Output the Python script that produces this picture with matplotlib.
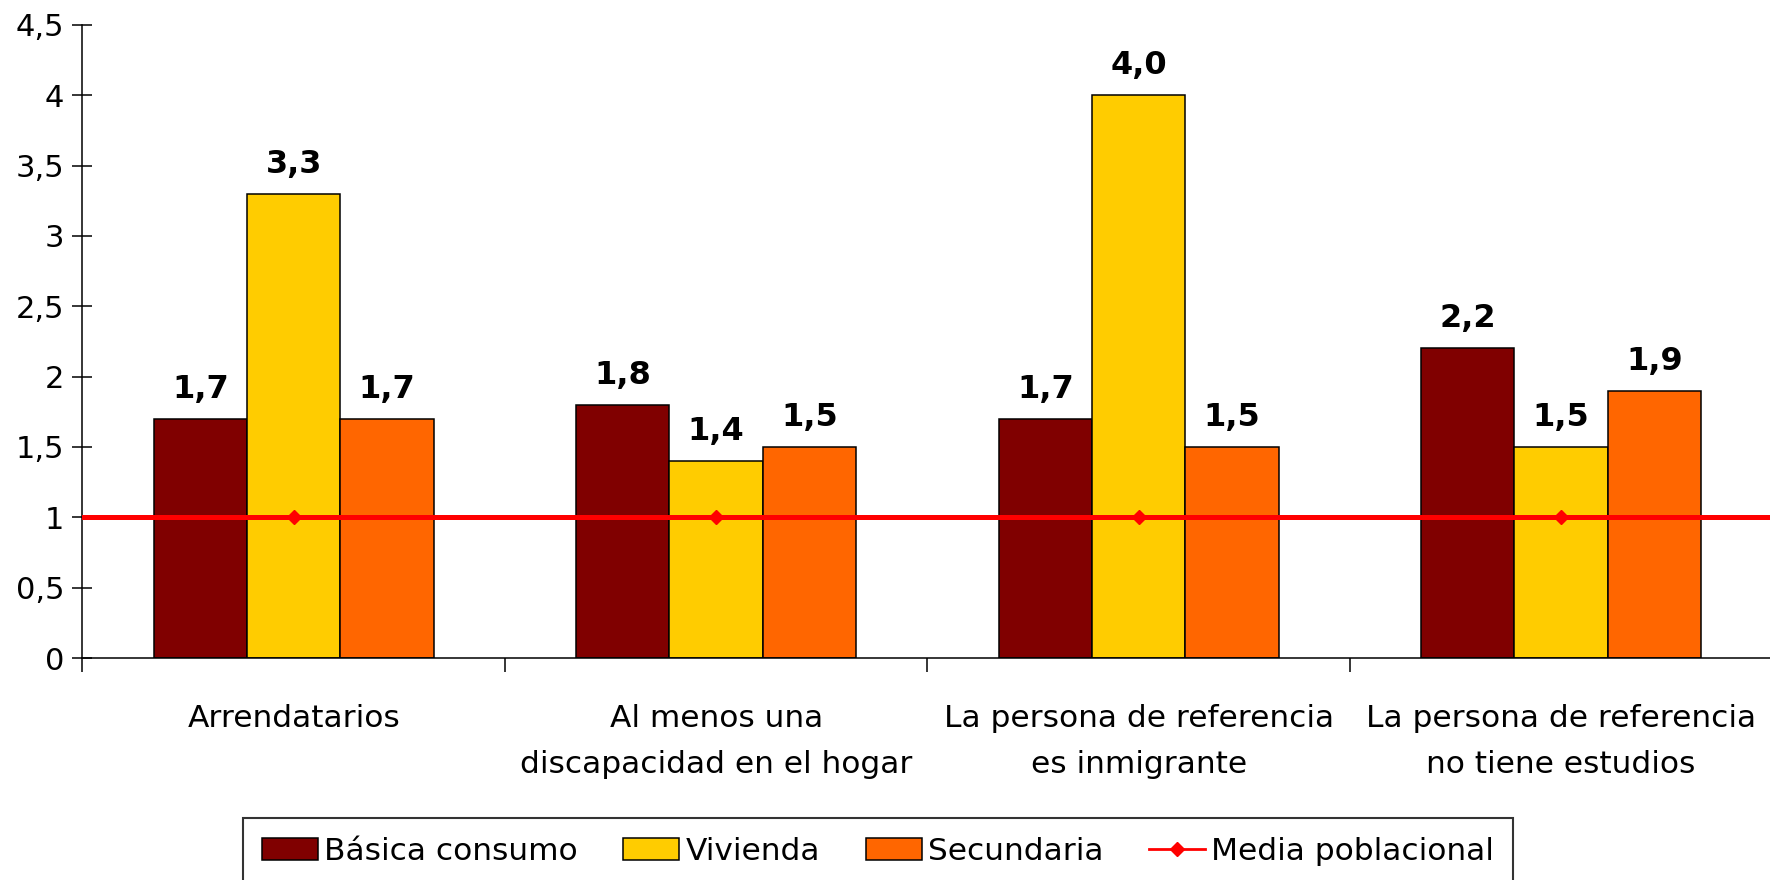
import numpy as np
import matplotlib
matplotlib.use("Agg")
import matplotlib.pyplot as plt
from matplotlib.lines import Line2D
from matplotlib.patches import Patch
from matplotlib.ticker import FuncFormatter

categorias = ["Arrendatarios", "Al menos una\ndiscapacidad en el hogar",
              "La persona de referencia\nes inmigrante", "La persona de referencia\nno tiene estudios"]
basica = [1.7, 1.8, 1.7, 2.2]
vivienda = [3.3, 1.4, 4.0, 1.5]
secundaria = [1.7, 1.5, 1.5, 1.9]
media = [1, 1, 1, 1]
series_names = ["Básica consumo", "Vivienda", "Secundaria", "Media poblacional"]
colores = ["#800000", "#FFCC00", "#FF6600"]

plt.rcParams['font.family'] = ['DejaVu Sans']

fig = plt.figure(figsize=(17.7, 8.8), dpi=100)
ax = fig.add_axes([82.4 / 1770, 1 - 658 / 880, 1690 / 1770, (658 - 24.8) / 880])

x = np.arange(len(categorias))
w = 0.221
for k, (vals, c) in enumerate(zip([basica, vivienda, secundaria], colores)):
    xs = x + (k - 1) * w
    ax.bar(xs, vals, w, color=c, edgecolor="black", linewidth=1.1, zorder=2)
    for xi, v in zip(xs, vals):
        ax.text(xi, v + 0.1, f"{v:.1f}".replace(".", ","), ha="center", va="bottom",
                fontsize=23, fontweight="bold")

ax.axhline(media[0], color="#FF0000", linewidth=3.6, zorder=3)
ax.plot(x, media, linestyle="none", marker="D", color="#FF0000", markersize=7.5, zorder=4)

ax.set_xlim(-0.5, 3.5)
ax.set_ylim(0, 4.5)
ax.set_yticks(np.arange(0, 4.51, 0.5))
ax.yaxis.set_major_formatter(FuncFormatter(lambda v, p: f"{v:g}".replace(".", ",")))
ax.tick_params(axis="y", direction="inout", length=14, width=1.1, labelsize=22, pad=6)

ax.set_xticks(np.arange(-0.5, 3.6, 1.0))
ax.set_xticklabels([])
ax.tick_params(axis="x", which="major", direction="out", length=10, width=1.1)
ax.set_xticks(x, minor=True)
ax.set_xticklabels(categorias, minor=True, fontsize=22.5, linespacing=1.75)
ax.tick_params(axis="x", which="minor", length=0, pad=33)

for s in ["top", "right"]:
    ax.spines[s].set_visible(False)
for s in ["left", "bottom"]:
    ax.spines[s].set_linewidth(1.1)

handles = [Patch(facecolor=c, edgecolor="black", linewidth=1.1) for c in colores]
handles.append(Line2D([0], [0], color="#FF0000", linewidth=2, marker="D", markersize=7))
leg = fig.legend(handles, series_names, ncol=4, loc="upper left",
                 bbox_to_anchor=(243 / 1770, 1 - 818 / 880), fontsize=22.5,
                 frameon=True, fancybox=False, edgecolor="black", borderpad=0.6,
                 handlelength=1.8, handletextpad=0.2, columnspacing=1.45,
                 borderaxespad=0)
leg.get_frame().set_linewidth(1.5)

fig.savefig("out.png", dpi=100)
